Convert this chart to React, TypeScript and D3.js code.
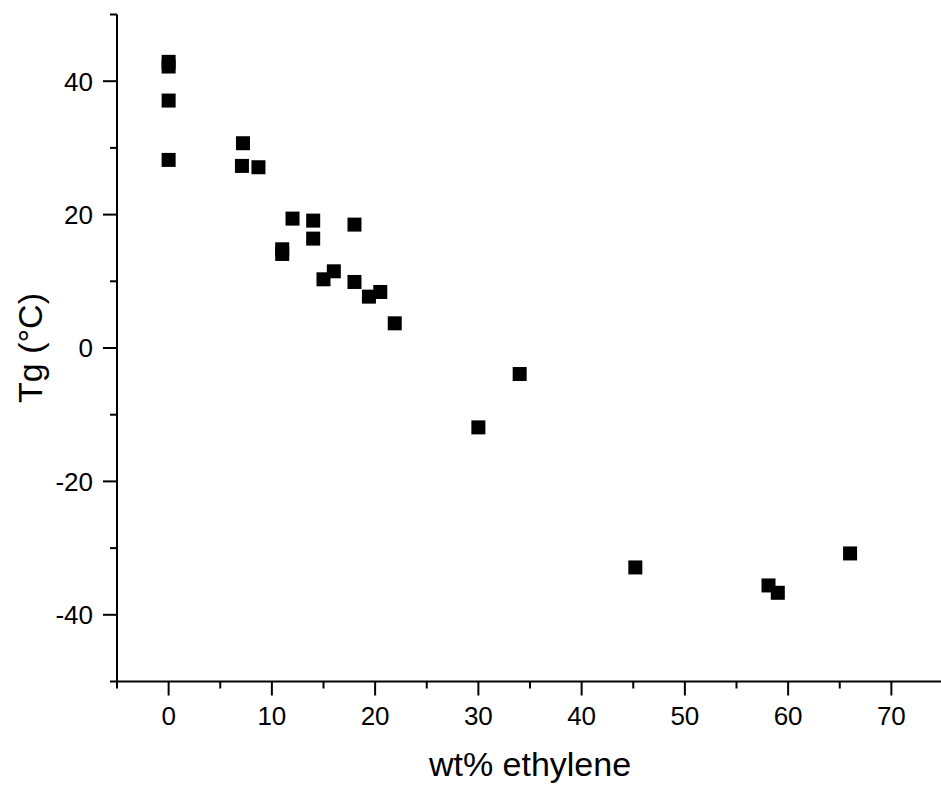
import React, { useRef, useEffect } from 'react';
import * as d3 from 'd3';

// wt% ethylene vs glass transition temperature
const wtEthylene = [0, 0, 0, 0, 7.2, 7.1, 8.7, 12.0, 14.0, 18.0, 14.0, 11.0, 11.0, 16.0, 15.0, 18.0, 19.4, 20.5, 21.9, 30.0, 34.0, 45.2, 58.1, 59.0, 66.0];
const tgValues = [42.9, 42.2, 37.1, 28.2, 30.7, 27.3, 27.1, 19.4, 19.1, 18.5, 16.4, 14.8, 14.1, 11.5, 10.3, 9.9, 7.7, 8.4, 3.7, -11.9, -3.9, -32.9, -35.6, -36.7, -30.8];

const xMajorTicks = [0, 10, 20, 30, 40, 50, 60, 70];
const xMinorTicks = [-5, 5, 15, 25, 35, 45, 55, 65, 75];
const yMajorTicks = [-40, -20, 0, 20, 40];
const yMinorTicks = [-50, -30, -10, 10, 30, 50];

const xTitle = 'wt% ethylene';
const yTitle = 'Tg (°C)';

const W = 941;
const H = 787;
const FONT = 'Liberation Sans, Arial, sans-serif';

const App = () => {
  const svgRef = useRef(null);

  useEffect(() => {
    const svg = d3.select(svgRef.current);
    svg.selectAll('*').remove();

    const x = d3.scaleLinear().domain([-5, 75]).range([117, 943]);
    const y = d3.scaleLinear().domain([-50, 50]).range([681.5, 14.5]);

    const data = wtEthylene.map((w, i) => ({ w, tg: tgValues[i] }));

    // x axis
    const gx = svg.append('g').attr('transform', `translate(0,${y(-50)})`);
    gx.append('line')
      .attr('x1', x(-5) - 1).attr('x2', W)
      .attr('stroke', '#000').attr('stroke-width', 2);
    gx.selectAll('line.major')
      .data(xMajorTicks)
      .join('line')
      .attr('class', 'major')
      .attr('x1', d => x(d)).attr('x2', d => x(d))
      .attr('y1', 0).attr('y2', 14)
      .attr('stroke', '#000').attr('stroke-width', 2);
    gx.selectAll('line.minor')
      .data(xMinorTicks)
      .join('line')
      .attr('class', 'minor')
      .attr('x1', d => x(d)).attr('x2', d => x(d))
      .attr('y1', 0).attr('y2', 7)
      .attr('stroke', '#000').attr('stroke-width', 2);
    gx.selectAll('text')
      .data(xMajorTicks)
      .join('text')
      .attr('x', d => x(d))
      .attr('y', 43)
      .attr('text-anchor', 'middle')
      .attr('font-family', FONT)
      .attr('font-size', 26)
      .text(d => d);

    // y axis
    const gy = svg.append('g').attr('transform', `translate(${x(-5)},0)`);
    gy.append('line')
      .attr('y1', y(50)).attr('y2', y(-50) + 1)
      .attr('stroke', '#000').attr('stroke-width', 2);
    gy.selectAll('line.major')
      .data(yMajorTicks)
      .join('line')
      .attr('class', 'major')
      .attr('y1', d => y(d)).attr('y2', d => y(d))
      .attr('x1', 0).attr('x2', -14)
      .attr('stroke', '#000').attr('stroke-width', 2);
    gy.selectAll('line.minor')
      .data(yMinorTicks)
      .join('line')
      .attr('class', 'minor')
      .attr('y1', d => y(d)).attr('y2', d => y(d))
      .attr('x1', 0).attr('x2', -7)
      .attr('stroke', '#000').attr('stroke-width', 2);
    gy.selectAll('text')
      .data(yMajorTicks)
      .join('text')
      .attr('x', -24)
      .attr('y', d => y(d))
      .attr('dy', '0.36em')
      .attr('text-anchor', 'end')
      .attr('font-family', FONT)
      .attr('font-size', 26)
      .text(d => d);

    // titles
    svg.append('text')
      .attr('x', (x(-5) + 943) / 2)
      .attr('y', 776)
      .attr('text-anchor', 'middle')
      .attr('font-family', FONT)
      .attr('font-size', 34)
      .text(xTitle);

    svg.append('text')
      .attr('transform', `translate(42,${(y(50) + y(-50)) / 2}) rotate(-90)`)
      .attr('text-anchor', 'middle')
      .attr('font-family', FONT)
      .attr('font-size', 34)
      .text(yTitle);

    // markers
    const s = 14;
    svg.append('g')
      .selectAll('rect')
      .data(data)
      .join('rect')
      .attr('x', d => x(d.w) - s / 2)
      .attr('y', d => y(d.tg) - s / 2)
      .attr('width', s)
      .attr('height', s)
      .attr('fill', '#000');
  }, []);

  return (
    <svg
      ref={svgRef}
      width={W}
      height={H}
      style={{ position: 'absolute', left: 0, top: 0, background: '#fff' }}
    ></svg>
  );
};

export default App;
